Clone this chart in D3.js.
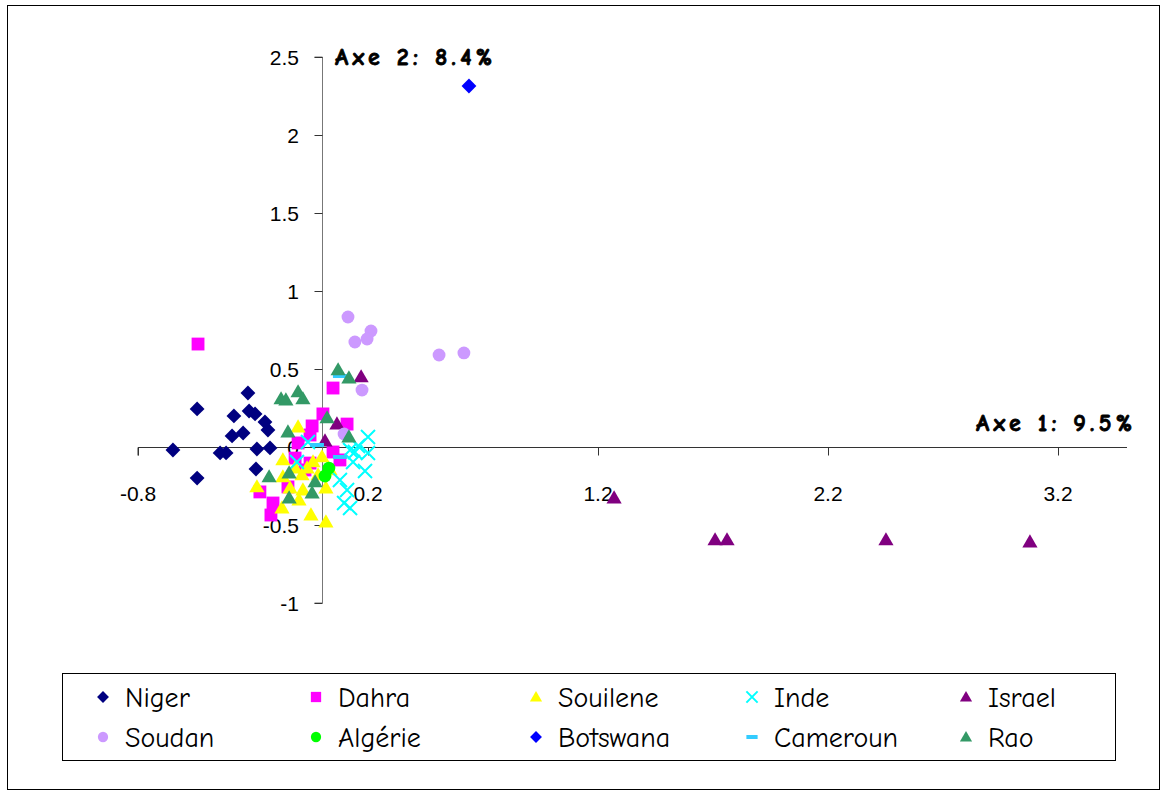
<!DOCTYPE html>
<html><head><meta charset="utf-8">
<script src="https://cdn.jsdelivr.net/npm/d3@7"></script>
<style>body{margin:0;background:#fff}svg{display:block}</style>
</head><body>
<svg id="c" width="1162" height="792"></svg>
<script>
// ---- data ----
const seriesNames = ["Niger","Dahra","Souilene","Inde","Israel","Soudan","Algérie","Botswana","Cameroun","Rao"];
const niger = [[-0.322,0.346],[-0.543,0.244],[-0.383,0.199],[-0.317,0.231],[-0.291,0.212],[-0.248,0.160],[-0.235,0.109],[-0.343,0.090],[-0.391,0.071],[-0.226,-0.006],[-0.283,-0.013],[-0.648,-0.019],[-0.443,-0.038],[-0.417,-0.038],[-0.287,-0.141],[-0.543,-0.199]];
const dahra = [[-0.539,0.660],[0.048,0.378],[0.109,0.147],[0.004,0.212],[-0.043,0.135],[-0.052,0.077],[-0.104,0.026],[-0.117,-0.071],[-0.052,-0.103],[0.078,-0.083],[-0.148,-0.256],[-0.213,-0.359],[-0.222,-0.436],[-0.270,-0.288],[-0.074,-0.147],[0.048,-0.032]];
const souilene = [[-0.104,0.128],[0.000,-0.064],[-0.170,-0.083],[-0.170,-0.192],[-0.065,-0.135],[-0.087,-0.179],[-0.017,-0.179],[0.017,-0.263],[-0.083,-0.276],[-0.100,-0.340],[-0.174,-0.391],[-0.048,-0.436],[0.017,-0.481],[-0.283,-0.256],[-0.139,-0.263],[-0.117,-0.135],[-0.039,-0.096],[0.035,-0.147]];
const inde = [[-0.061,0.032],[-0.109,-0.096],[0.122,-0.019],[0.157,0.006],[0.200,0.064],[0.200,-0.038],[0.187,-0.154],[0.078,-0.212],[0.109,-0.276],[0.122,-0.391],[0.096,-0.359],[0.135,-0.096],[0.143,-0.032]];
const israel = [[0.170,0.449],[0.065,0.147],[0.013,0.038],[1.270,-0.327],[1.709,-0.596],[1.761,-0.596],[2.452,-0.596],[3.078,-0.609]];
const soudan = [[0.113,0.833],[0.213,0.744],[0.143,0.673],[0.196,0.692],[0.509,0.590],[0.617,0.603],[0.174,0.365],[0.096,0.083]];
const algerie = [[0.030,-0.135],[0.013,-0.186]];
const botswana = [[0.639,2.314]];
const cameroun = [[0.078,0.455],[-0.022,0.013],[0.078,-0.064]];
const rao = [[0.070,0.494],[0.117,0.442],[-0.178,0.308],[-0.157,0.301],[-0.104,0.353],[-0.083,0.308],[0.022,0.186],[-0.148,0.096],[0.117,0.064],[-0.230,-0.192],[-0.143,-0.167],[-0.143,-0.327],[-0.030,-0.224],[-0.043,-0.295]];
const xTicks = [-0.8,0.2,1.2,2.2,3.2];
const yTicks = [-1,-0.5,0,0.5,1,1.5,2,2.5];
const axisTitles = ["Axe 1: 9.5%","Axe 2: 8.4%"];

const seriesData = [niger,dahra,souilene,inde,israel,soudan,algerie,botswana,cameroun,rao];
const colors = ["#000080","#FF00FF","#FFFF00","#00FFFF","#800080","#CC99FF","#00FF00","#0000FF","#33CCFF","#339966"];
const shapes = ["diamond","square","triangle","x","triangle","circle","circle","diamond","dash","triangle"];

const svg = d3.select("#c");
const x = d3.scaleLinear().domain([-0.8,3.5]).range([138,1127]);
const y = d3.scaleLinear().domain([-1,2.5]).range([603,57]);

// outer border
svg.append("rect").attr("x",7.5).attr("y",5.5).attr("width",1152).attr("height",784)
  .attr("fill","none").attr("stroke","#000").attr("stroke-width",1);

// axes
const tickFont = "'Liberation Sans', Arial, sans-serif";
const xAxis = d3.axisBottom(x).tickValues(xTicks).tickSize(8).tickFormat("");
const gx = svg.append("g").attr("transform",`translate(0,${Math.round(y(0))+0.5})`).call(xAxis);
gx.select(".domain").attr("stroke","#333").attr("d",`M${x(-0.8)},8V0H${x(3.5)}`);
gx.selectAll(".tick line").attr("stroke","#333");
const yAxis = d3.axisLeft(y).tickValues(yTicks).tickSize(8).tickFormat("");
const gy = svg.append("g").attr("transform",`translate(${Math.round(x(0))+0.5},0)`).call(yAxis);
gy.select(".domain").attr("stroke","#777").attr("d",`M-8,${y(2.5)}H0V${y(-1)}H-8`);
gy.selectAll(".tick line").attr("stroke","#333");

// tick labels
svg.append("g").selectAll("text").data(xTicks).join("text")
  .attr("x",d=>x(d)).attr("y",y(0)+54).attr("text-anchor","middle")
  .style("font-family",tickFont).style("font-size","21px").text(d=>d);
svg.append("g").selectAll("text").data(yTicks).join("text")
  .attr("x",x(0)-23).attr("y",d=>y(d)+8).attr("text-anchor","end")
  .style("font-family",tickFont).style("font-size","21px").text(d=>d);

// axis titles
const comic = "'Comic Sans MS','Comic Neue','Open Sans','DejaVu Sans',sans-serif";
function boldTitle(tx, ty, anchor, txt, len){
  svg.append("text").attr("x",tx).attr("y",ty).attr("text-anchor",anchor)
    .attr("textLength",len).attr("lengthAdjust","spacing")
    .style("font-family",comic).style("font-weight","bold").style("font-size","24px")
    .attr("stroke","#000").attr("stroke-width",0.8).text(txt);
}
boldTitle(1132, 431, "end", axisTitles[0], 156);
boldTitle(335, 65, "start", axisTitles[1], 157);

function drawMarker(g, shape, color, cx, cy, legend){
  const s = legend ? 0.8 : 1;
  if(shape==="diamond"){
    g.append("path").attr("d",d3.symbol(d3.symbolSquare, 110*s*s)()).attr("transform",`translate(${cx},${cy}) rotate(45)`).attr("fill",color);
  } else if(shape==="square"){
    g.append("path").attr("d",d3.symbol(d3.symbolSquare, 165*s*s)()).attr("transform",`translate(${cx},${cy})`).attr("fill",color);
  } else if(shape==="triangle"){
    g.append("path").attr("d",d3.symbol(d3.symbolTriangle, 100*s*s)()).attr("transform",`translate(${cx},${cy+1})`).attr("fill",color);
  } else if(shape==="circle"){
    g.append("path").attr("d",d3.symbol(d3.symbolCircle, 130*s*s)()).attr("transform",`translate(${cx},${cy})`).attr("fill",color);
  } else if(shape==="x"){
    const r = 7*s;
    g.append("path").attr("d",`M${-r},${-r}L${r},${r}M${-r},${r}L${r},${-r}`).attr("transform",`translate(${cx},${cy})`)
      .attr("stroke",color).attr("stroke-width",2).attr("fill","none");
  } else if(shape==="dash"){
    g.append("rect").attr("x",cx-7*s).attr("y",cy-2).attr("width",14*s).attr("height",4).attr("fill",color);
  }
}

// points
const gp = svg.append("g");
seriesData.forEach((data,i)=>{
  const g = gp.append("g");
  data.forEach(d=>drawMarker(g, shapes[i], colors[i], x(d[0]), y(d[1]), false));
});

// legend
svg.append("rect").attr("x",62.5).attr("y",673.5).attr("width",1053).attr("height",87)
  .attr("fill","#fff").attr("stroke","#000").attr("stroke-width",1);
const colX = [103,316,536,752,966];
const rowY = [697,737];
const lg = svg.append("g");
seriesNames.forEach((name,i)=>{
  const col = i%5, row = Math.floor(i/5);
  const mx = colX[col], my = rowY[row];
  drawMarker(lg, shapes[i], colors[i], mx, my, true);
  lg.append("text").attr("x",mx+22).attr("y",my+10)
    .style("font-family",comic).style("font-size","28px").text(name);
});
</script>
</body></html>
